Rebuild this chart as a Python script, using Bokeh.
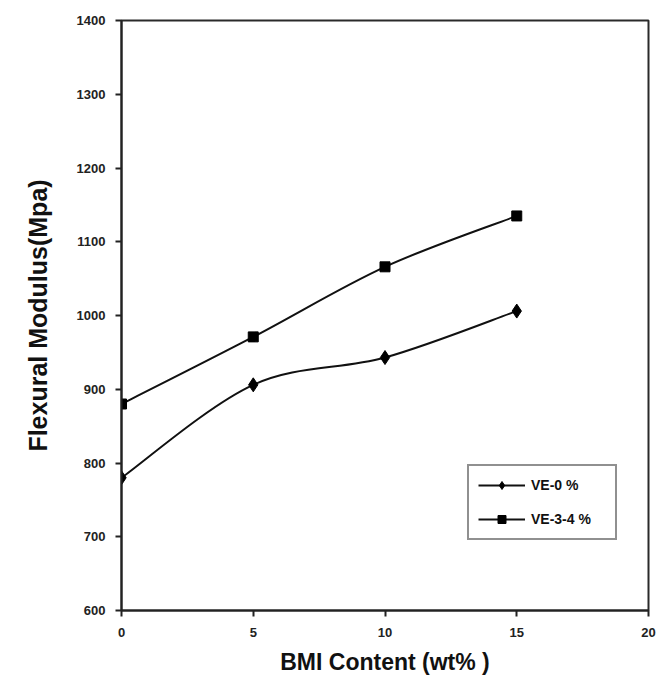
from bokeh.plotting import figure
from bokeh.models import Legend, LegendItem, FixedTicker, Range1d, ColumnDataSource
from bokeh.embed import file_html
from bokeh.resources import INLINE

bmi = [0, 5, 10, 15]
ve0 = [780, 906, 943, 1006]
ve34 = [880, 971, 1066, 1135]
x_ticks = [0, 5, 10, 15, 20]
y_ticks = [600, 700, 800, 900, 1000, 1100, 1200, 1300, 1400]

FONT = "Liberation Sans"

p = figure(width=665, height=683, output_backend="svg", toolbar_location=None,
           x_range=Range1d(0, 20), y_range=Range1d(600, 1400),
           min_border_left=121, min_border_right=17, min_border_top=20, min_border_bottom=73)
p.xgrid.visible = False
p.ygrid.visible = False
p.outline_line_color = "#2a2a2a"
p.outline_line_width = 2
p.background_fill_color = "white"
p.border_fill_color = "white"


def smooth_source(xs, ys):
    # Bezier control points (spreadsheet-style "smoothed line" rendering)
    n = len(xs)
    d = dict(x0=[], y0=[], x1=[], y1=[], cx0=[], cy0=[], cx1=[], cy1=[])
    for i in range(n - 1):
        xp, yp = (xs[i - 1], ys[i - 1]) if i > 0 else (xs[i], ys[i])
        xn2, yn2 = (xs[i + 2], ys[i + 2]) if i + 2 < n else (xs[i + 1], ys[i + 1])
        d["x0"].append(xs[i]); d["y0"].append(ys[i])
        d["x1"].append(xs[i + 1]); d["y1"].append(ys[i + 1])
        d["cx0"].append(xs[i] + (xs[i + 1] - xp) / 6)
        d["cy0"].append(ys[i] + (ys[i + 1] - yp) / 6)
        d["cx1"].append(xs[i + 1] - (xn2 - xs[i]) / 6)
        d["cy1"].append(ys[i + 1] - (yn2 - ys[i]) / 6)
    return ColumnDataSource(d)


l1 = p.bezier(x0="x0", y0="y0", x1="x1", y1="y1", cx0="cx0", cy0="cy0", cx1="cx1", cy1="cy1",
              source=smooth_source(bmi, ve0), line_color="#111111", line_width=2)
m1 = p.scatter(bmi, ve0, marker="diamond", size=14, color="black")
l2 = p.bezier(x0="x0", y0="y0", x1="x1", y1="y1", cx0="cx0", cy0="cy0", cx1="cx1", cy1="cy1",
              source=smooth_source(bmi, ve34), line_color="#111111", line_width=2)
m2 = p.scatter(bmi, ve34, marker="square", size=10, color="black")

for ax in (p.xaxis[0], p.yaxis[0]):
    ax.axis_line_width = 2
    ax.axis_line_color = "#222222"
    ax.major_tick_line_color = "#222222"
    ax.major_tick_line_width = 2
    ax.major_tick_out = 6
    ax.major_tick_in = 0
    ax.minor_tick_line_color = None
    ax.major_label_text_font = FONT
    ax.major_label_text_font_style = "bold"
    ax.major_label_text_font_size = "13px"
    ax.major_label_text_color = "#222222"
    ax.axis_label_text_font = FONT
    ax.axis_label_text_font_style = "bold"
    ax.axis_label_text_color = "#111111"

p.xaxis.axis_label_text_font_size = "23px"
p.yaxis.axis_label_text_font_size = "25px"
p.xaxis.ticker = FixedTicker(ticks=x_ticks)
p.yaxis.ticker = FixedTicker(ticks=y_ticks)
p.xaxis.axis_label = "BMI Content (wt% )"
p.yaxis.axis_label = "Flexural Modulus(Mpa)"
p.xaxis.major_label_standoff = 11
p.yaxis.major_label_standoff = 10
p.xaxis.axis_label_standoff = 9
p.yaxis.axis_label_standoff = 22

legend = Legend(items=[LegendItem(label="VE-0 %", renderers=[l1, m1]),
                       LegendItem(label="VE-3-4 %", renderers=[l2, m2])],
                location=(346, 70), margin=0, padding=9, spacing=14,
                glyph_width=47, glyph_height=20, label_standoff=6, label_width=75,
                border_line_color="#222222", border_line_width=2,
                label_text_font=FONT, label_text_font_style="bold",
                label_text_font_size="14px", label_text_color="#111111",
                background_fill_alpha=1.0)
p.add_layout(legend)

open("out.html", "w").write(file_html(p, INLINE))
